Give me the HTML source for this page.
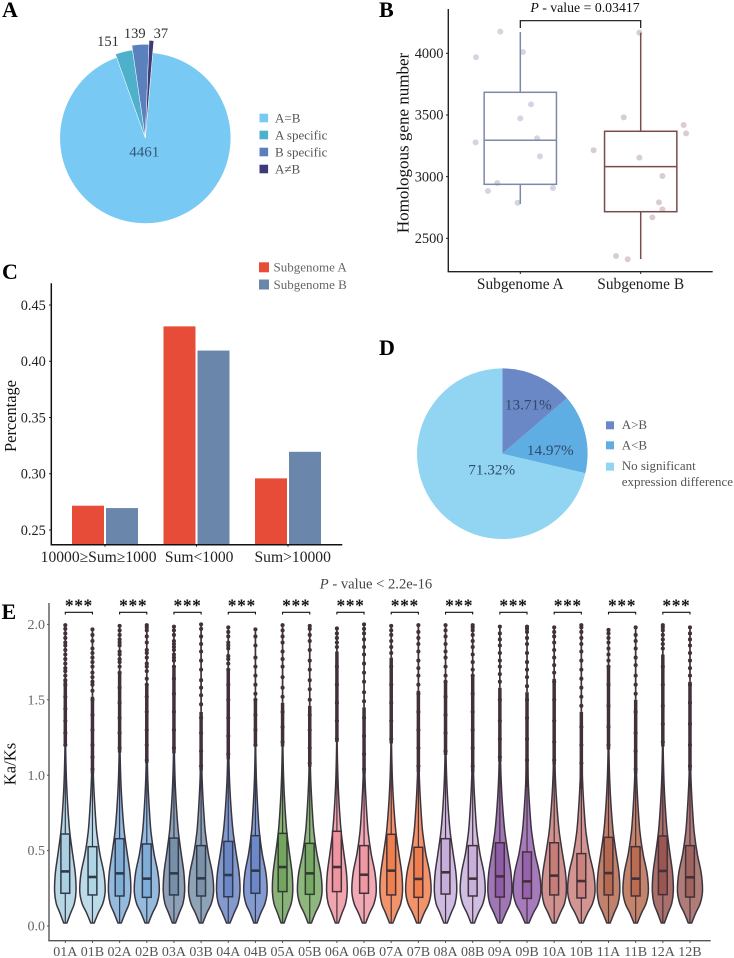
<!DOCTYPE html>
<html lang="en">
<head>
<meta charset="utf-8">
<title>Subgenome comparison figure</title>
<style>
html,body{margin:0;padding:0;background:#fff;}
svg{display:block;font-family:"Liberation Serif",serif;filter:blur(0.35px);}
</style>
</head>
<body>
<svg id="fig" width="734" height="958" viewBox="0 0 734 958" xmlns="http://www.w3.org/2000/svg">
  <text x="2" y="17" font-size="22" font-weight="bold">A</text>
  <text x="379" y="17" font-size="22" font-weight="bold">B</text>
  <text x="2" y="279" font-size="22" font-weight="bold">C</text>
  <text x="379" y="355" font-size="22" font-weight="bold">D</text>
  <text x="1.5" y="619" font-size="22" font-weight="bold">E</text>

  <g id="panelA"></g>

  <g id="panelB">
    <text x="585" y="12" font-size="13.8" text-anchor="middle" fill="#111"><tspan font-style="italic">P</tspan> - value = 0.03417</text>
    <text transform="translate(408.5,143) rotate(-90)" font-size="17" text-anchor="middle" fill="#111">Homologous gene number</text>
  </g>

  <g id="panelC">
    <text transform="translate(16,416) rotate(-90)" font-size="16.4" text-anchor="middle" fill="#111">Percentage</text>
  </g>

  <g id="panelD"></g>

  <g id="panelE">
    <text x="376" y="588.5" font-size="14.6" text-anchor="middle" fill="#444"><tspan font-style="italic">P</tspan> - value &lt; 2.2e-16</text>
    <text transform="translate(15.5,764) rotate(-90)" font-size="16.6" text-anchor="middle" fill="#111">Ka/Ks</text>
  </g>
</svg>

<script>
/* ---------- Panel A data ---------- */
const pieACategories = ['A=B', 'A specific', 'B specific', 'A\u2260B'];
const pieAValues = [4461, 151, 139, 37];

/* ---------- Panel B data ---------- */
const boxCategories = ['Subgenome A', 'Subgenome B'];
const boxUpperWhisker = [4173, 4167];
const boxQ3 = [3684, 3368];
const boxMedian = [3295, 3081];
const boxQ1 = [2938, 2716];
const boxLowerWhisker = [2778, 2332];
const boxTicks = [2500, 3000, 3500, 4000];
const pointsAValues = [4176, 3968, 4011, 3586, 3473, 3311, 3278, 3165, 2949, 2884, 2908, 2789];
const pointsAJitter = [-0.166, -0.368, 0.022, 0.089, 0, 0.139, -0.371, 0.163, -0.191, -0.269, 0.271, -0.022];
const pointsBValues = [4168, 3481, 3419, 3351, 3214, 3154, 3005, 2792, 2735, 2670, 2357, 2330];
const pointsBJitter = [-0.011, -0.141, 0.357, 0.377, -0.391, -0.011, 0.18, 0.152, 0.18, 0.097, -0.205, -0.108];

/* ---------- Panel C data ---------- */
const barCategories = ['10000\u2265Sum\u22651000', 'Sum<1000', 'Sum>10000'];
const barSeriesNames = ['Subgenome A', 'Subgenome B'];
const barSeriesA = [0.2716, 0.431, 0.2959];
const barSeriesB = [0.2695, 0.4095, 0.3195];
const barTicks = [0.25, 0.30, 0.35, 0.40, 0.45];

/* ---------- Panel D data ---------- */
const pieDCategories = ['A>B', 'A<B', 'No significant expression difference'];
const pieDValues = [13.71, 14.97, 71.32];

/* ---------- Panel E data ---------- */
const violinCategories = ['01A','01B','02A','02B','03A','03B','04A','04B','05A','05B','06A','06B','07A','07B','08A','08B','09A','09B','10A','10B','11A','11B','12A','12B'];
const violinQ1 = [.217,.206,.199,.19,.206,.199,.194,.217,.228,.21,.228,.217,.206,.19,.212,.199,.192,.183,.206,.186,.206,.199,.208,.192];
const violinMedian = [.362,.325,.349,.314,.349,.316,.338,.367,.391,.349,.391,.34,.367,.312,.356,.314,.329,.296,.334,.298,.351,.314,.365,.323];
const violinQ3 = [.61,.526,.579,.544,.583,.533,.561,.599,.614,.548,.628,.533,.608,.522,.579,.533,.552,.491,.552,.48,.588,.526,.597,.533];
const violinWhiskerTop = [1.2,1.01,1.15,1.08,1.145,1.03,1.105,1.19,1.19,1.056,1.22,1.01,1.21,1.02,1.134,1.02,1.09,.92,1.07,.91,1.17,1.01,1.19,1.03];
const violinDenseTop = [1.63,1.52,1.68,1.6,1.72,1.42,1.7,1.5,1.48,1.46,1.82,1.45,1.78,1.56,1.62,1.66,1.58,1.55,1.64,1.42,1.72,1.5,1.8,1.62];
const violinPeak = [10.7,12.7,11.2,12.5,10.7,12.5,11.7,11.7,10.2,12.3,10.3,12.2,11.3,12.7,11.2,12.5,12,13.8,12.2,13.7,11.3,12.7,10.5,12.5];
const densityGrid = [.02,.05,.09,.15,.23,.35,.48,.62,.75,.88,1.0,1.15,1.3];
const densityShapeA = [.15,.31,.52,.85,1,.93,.68,.42,.27,.16,.09,.04,.01];
const densityShapeB = [.14,.28,.48,.82,1,.9,.58,.34,.22,.13,.07,.03,.01];
const violinOutliers = [
  [1.2,1.28,1.36,1.44,1.52,1.6,1.63,1.66,1.69,1.71,1.74,1.77,1.8,1.83,1.86,1.88,1.91,1.94,1.97,1.995],
  [1.04,1.12,1.2,1.3,1.4,1.5,1.56,1.6,1.62,1.65,1.68,1.72,1.75,1.78,1.81,1.84,1.89,1.93,1.967],
  [1.18,1.28,1.38,1.48,1.58,1.68,1.72,1.75,1.77,1.8,1.82,1.86,1.88,1.9,1.93,1.96,1.99],
  [1.1,1.2,1.3,1.42,1.52,1.6,1.64,1.69,1.72,1.74,1.78,1.81,1.83,1.88,1.92,1.96,1.98,1.995],
  [1.18,1.3,1.42,1.54,1.64,1.72,1.76,1.78,1.8,1.83,1.85,1.87,1.89,1.93,1.96,1.985],
  [1.06,1.16,1.28,1.38,1.47,1.53,1.58,1.63,1.7,1.76,1.82,1.87,1.92,1.97,2.0],
  [1.14,1.26,1.38,1.5,1.6,1.7,1.74,1.77,1.79,1.84,1.86,1.88,1.92,1.95,1.98],
  [1.2,1.3,1.4,1.5,1.54,1.6,1.66,1.72,1.78,1.86,1.92,1.967],
  [1.22,1.32,1.42,1.52,1.58,1.65,1.72,1.77,1.82,1.88,1.92,1.96,1.995],
  [1.08,1.18,1.3,1.4,1.5,1.57,1.63,1.7,1.76,1.83,1.89,1.93,1.97,1.99],
  [1.24,1.36,1.48,1.6,1.72,1.85,1.88,1.91,1.94,1.973],
  [1.04,1.14,1.26,1.38,1.49,1.55,1.62,1.68,1.74,1.8,1.85,1.9,1.94,1.97,2.0],
  [1.24,1.36,1.48,1.6,1.72,1.81,1.85,1.89,1.93,1.96,1.99],
  [1.06,1.18,1.3,1.42,1.54,1.6,1.66,1.71,1.76,1.82,1.87,1.91,1.95,1.995],
  [1.16,1.28,1.4,1.52,1.62,1.66,1.72,1.78,1.82,1.87,1.92,1.96,1.995],
  [1.06,1.18,1.3,1.42,1.54,1.66,1.7,1.75,1.8,1.85,1.89,1.93,1.96,1.98,1.995],
  [1.12,1.24,1.36,1.5,1.62,1.67,1.72,1.76,1.81,1.86,1.9,1.94,1.985],
  [.96,1.1,1.24,1.38,1.5,1.59,1.65,1.7,1.75,1.81,1.87,1.91,1.95,1.97,1.985],
  [1.1,1.22,1.36,1.5,1.62,1.68,1.73,1.78,1.83,1.88,1.92,1.95,1.98],
  [.94,1.08,1.2,1.32,1.46,1.52,1.58,1.64,1.7,1.76,1.82,1.87,1.91,1.95,1.98,1.995],
  [1.2,1.32,1.46,1.6,1.72,1.76,1.8,1.84,1.88,1.91,1.94,1.963],
  [1.04,1.16,1.28,1.42,1.54,1.6,1.66,1.73,1.78,1.84,1.89,1.93,1.98],
  [1.22,1.34,1.46,1.6,1.72,1.84,1.87,1.9,1.93,1.96,1.98,1.995],
  [1.06,1.2,1.34,1.48,1.6,1.66,1.71,1.76,1.81,1.86,1.9,1.94,1.98]
];
const violinTicks = [0, 0.5, 1.0, 1.5, 2.0];

/* ---------- Styling constants ---------- */
const pieAColors = ['#78c9f3', '#4fb0cc', '#5a80bd', '#3e3a78'];
const pieARadius = [85.5, 89, 93.7, 97.7];
const pieALabelShiftX = [0, -12, -5, 9];
const pieALabelShiftY = [0, 10, 5, 5];
const pieDColors = ['#6a87c6', '#5eade3', '#92d5f2'];
const violinColors = ['#a9cfe0','#afd4e3','#7fadd6','#7fadd8','#788fa8','#7a91a8','#6b87c6','#6c88c8','#74a55f','#78a964','#ee95a0','#ee98a4','#ef7f4c','#ef7e4e','#c4aedb','#c6b0dc','#8d5da8','#9562ae','#c67d78','#cb817c','#b56a4f','#b96c50','#9a5650','#a0645e'];

const NS = 'http://www.w3.org/2000/svg';
function mk(parent, tag, attrs, text) {
  const e = document.createElementNS(NS, tag);
  for (const k in attrs) e.setAttribute(k, attrs[k]);
  if (text !== undefined) e.textContent = text;
  parent.appendChild(e);
  return e;
}
function polar(cx, cy, r, deg) {
  const a = deg * Math.PI / 180;
  return [cx + r * Math.sin(a), cy - r * Math.cos(a)];
}
function wedge(cx, cy, r, a0, a1) {
  const p0 = polar(cx, cy, r, a0), p1 = polar(cx, cy, r, a1);
  const large = (a1 - a0) > 180 ? 1 : 0;
  return 'M' + cx + ' ' + cy + 'L' + p0[0] + ' ' + p0[1] + 'A' + r + ' ' + r + ' 0 ' + large + ' 1 ' + p1[0] + ' ' + p1[1] + 'Z';
}
function slug(s) {
  return String(s).toLowerCase().replace(/[^a-z0-9]+/g, '-').replace(/^-|-$/g, '');
}

/* ---------- Panel A ---------- */
(function () {
  const g = document.getElementById('panelA');
  const cx = 145.3, cy = 138;
  const total = pieAValues.reduce(function (a, b) { return a + b; }, 0);
  let ang = 5;
  pieAValues.forEach(function (v, i) {
    const sweep = v / total * 360;
    const slice = mk(g, 'path', { d: wedge(cx, cy, pieARadius[i], ang, ang + sweep), fill: pieAColors[i], stroke: '#fff', 'stroke-width': 0.5 });
    
    
    const mid = ang + sweep / 2;
    const isMain = i === 0;
    const p = isMain ? [cx - 1, cy + 13.5] : polar(cx, cy, 105, mid);
    const label = mk(g, 'text', { x: p[0] + pieALabelShiftX[i], y: p[1] + pieALabelShiftY[i] + (isMain ? 5 : 0), 'font-size': isMain ? 15 : 14.5, 'text-anchor': 'middle', fill: isMain ? '#34567a' : '#333' }, String(v));
    
    
    ang += sweep;
  });
  pieACategories.forEach(function (c, i) {
    const y = 118 + i * 17;
    const sw = mk(g, 'rect', { x: 259.5, y: y - 4.3, width: 8.6, height: 8.6, fill: pieAColors[i] });
    
    
    const t = mk(g, 'text', { x: 275, y: y + 4.5, 'font-size': 13, fill: '#555' }, c);
    
    
  });
})();

/* ---------- Panel B ---------- */
(function () {
  const g = document.getElementById('panelB');
  const yS = function (v) { return 53.33 + (4000 - v) / 500 * 61.67; };
  const xS = function (i) { return 520.3 + i * 120.4; };
  const yAxis = mk(g, 'line', { x1: 448.3, y1: 9, x2: 448.3, y2: 271.7, stroke: '#222', 'stroke-width': 1.4 });
  
  
  const xAxis = mk(g, 'line', { x1: 447.6, y1: 271.7, x2: 712.7, y2: 271.7, stroke: '#222', 'stroke-width': 1.4 });
  
  
  boxTicks.forEach(function (t) {
    const y = yS(t);
    const tick = mk(g, 'line', { x1: 446, y1: y, x2: 448, y2: y, stroke: '#222', 'stroke-width': 1 });
    
    
    const lab = mk(g, 'text', { x: 443.5, y: y + 4.6, 'font-size': 14.4, 'text-anchor': 'end', fill: '#222' }, String(t));
    
    
  });
  const stroke = ['#7e88a8', '#7a4a4e'];
  const ptFill = ['#d6d4e0', '#dacdd1'];
  [[pointsAValues, pointsAJitter], [pointsBValues, pointsBJitter]].forEach(function (s, k) {
    s[0].forEach(function (v, j) {
      const pt = mk(g, 'circle', { cx: xS(k) + s[1][j] * 120.4, cy: yS(v), r: 3, fill: ptFill[k] });
      
      
    });
  });
  boxCategories.forEach(function (c, k) {
    const x = xS(k), w = 72.3;
    const up = mk(g, 'line', { x1: x, y1: yS(boxUpperWhisker[k]), x2: x, y2: yS(boxQ3[k]), stroke: stroke[k], 'stroke-width': 1.5 });
    
    
    const lo = mk(g, 'line', { x1: x, y1: yS(boxQ1[k]), x2: x, y2: yS(boxLowerWhisker[k]), stroke: stroke[k], 'stroke-width': 1.5 });
    
    
    const box = mk(g, 'rect', { x: x - w / 2, y: yS(boxQ3[k]), width: w, height: yS(boxQ1[k]) - yS(boxQ3[k]), fill: 'none', stroke: stroke[k], 'stroke-width': 1.5 });
    
    
    const med = mk(g, 'line', { x1: x - w / 2, y1: yS(boxMedian[k]), x2: x + w / 2, y2: yS(boxMedian[k]), stroke: stroke[k], 'stroke-width': 1.5 });
    
    
    const tick = mk(g, 'line', { x1: x, y1: 271.7, x2: x, y2: 274, stroke: '#222', 'stroke-width': 1 });
    
    
    const lab = mk(g, 'text', { x: x, y: 289, 'font-size': 15.4, 'text-anchor': 'middle', fill: '#222' }, c);
    
    
  });
  const br = mk(g, 'path', { d: 'M' + xS(0) + ' 28V20.7H' + xS(1) + 'V28', fill: 'none', stroke: '#111', 'stroke-width': 1.2 });
  
  
})();

/* ---------- Panel C ---------- */
(function () {
  const g = document.getElementById('panelC');
  const yS = function (v) { return 530 - (v - 0.25) / 0.05 * 56.25; };
  const xS = function (i) { return 105 + i * 91.5; };
  const base = 544.7, barW = 32;
  const colors = ['#e74c38', '#6b86ab'];
  const labelShift = [-6.4, 2.7, 4.7];
  barCategories.forEach(function (c, i) {
    const a = mk(g, 'rect', { x: xS(i) - barW - 1, y: yS(barSeriesA[i]), width: barW, height: base - yS(barSeriesA[i]), fill: colors[0] });
    
    
    const b = mk(g, 'rect', { x: xS(i) + 1, y: yS(barSeriesB[i]), width: barW, height: base - yS(barSeriesB[i]), fill: colors[1] });
    
    
    const tick = mk(g, 'line', { x1: xS(i), y1: base, x2: xS(i), y2: base + 2, stroke: '#222', 'stroke-width': 1 });
    
    
    const lab = mk(g, 'text', { x: xS(i) + labelShift[i], y: 562, 'font-size': 15.6, 'text-anchor': 'middle', fill: '#222' }, c);
    
    
  });
  const yAxis = mk(g, 'line', { x1: 51.3, y1: 283.3, x2: 51.3, y2: 544.7, stroke: '#111', 'stroke-width': 1.5 });
  
  
  const xAxis = mk(g, 'line', { x1: 50.6, y1: 544.7, x2: 342.3, y2: 544.7, stroke: '#111', 'stroke-width': 1.5 });
  
  
  barTicks.forEach(function (t) {
    const y = yS(t);
    const tick = mk(g, 'line', { x1: 49, y1: y, x2: 51, y2: y, stroke: '#222', 'stroke-width': 1 });
    
    
    const lab = mk(g, 'text', { x: 45.8, y: y + 4.8, 'font-size': 14.3, 'text-anchor': 'end', fill: '#222' }, t.toFixed(2));
    
    
  });
  barSeriesNames.forEach(function (n, i) {
    const y = 267.3 + i * 17.2;
    const sw = mk(g, 'rect', { x: 259, y: y - 5, width: 10, height: 10, fill: colors[i] });
    
    
    const t = mk(g, 'text', { x: 273.5, y: y + 4.4, 'font-size': 13, fill: '#666' }, n);
    
    
  });
})();

/* ---------- Panel D ---------- */
(function () {
  const g = document.getElementById('panelD');
  const cx = 502.3, cy = 453.7, r = 85.3;
  const total = pieDValues.reduce(function (a, b) { return a + b; }, 0);
  const labelX = [528.3, 550.3, 491.7];
  const labelY = [409.3, 455, 474.3];
  let ang = 0;
  pieDValues.forEach(function (v, i) {
    const sweep = v / total * 360;
    const slice = mk(g, 'path', { d: wedge(cx, cy, r, ang, ang + sweep), fill: pieDColors[i] });
    
    
    ang += sweep;
  });
  pieDValues.forEach(function (v, i) {
    const t = mk(g, 'text', { x: labelX[i], y: labelY[i], 'font-size': 15.2, 'text-anchor': 'middle', fill: '#2f4a6b' }, v.toFixed(2) + '%');
    
    
  });
  const swatchY = [425.3, 445.3, 466.7];
  const textY = [429, 449.3, 470];
  pieDCategories.forEach(function (c, i) {
    const sw = mk(g, 'rect', { x: 606, y: swatchY[i] - 4, width: 8, height: 8, fill: pieDColors[i] });
    
    
    if (i === 2) {
      const t1 = mk(g, 'text', { x: 621.7, y: textY[i], 'font-size': 13, fill: '#555' }, 'No significant');
      
      
      const t2 = mk(g, 'text', { x: 621.7, y: 486, 'font-size': 13, fill: '#555' }, 'expression difference');
      
      
    } else {
      const t = mk(g, 'text', { x: 621.7, y: textY[i], 'font-size': 13, fill: '#555' }, c);
      
      
    }
  });
})();

/* ---------- Panel E ---------- */
(function () {
  const g = document.getElementById('panelE');
  const yS = function (v) { return 926 - v * 150.8; };
  const xS = function (i) { return 65.3 + i * 27.16; };
  function smooth(pts) {
    let d = '';
    for (let i = 0; i < pts.length - 1; i++) {
      const p0 = pts[Math.max(i - 1, 0)], p1 = pts[i], p2 = pts[i + 1], p3 = pts[Math.min(i + 2, pts.length - 1)];
      d += 'C' + (p1[0] + (p2[0] - p0[0]) / 6) + ' ' + (p1[1] + (p2[1] - p0[1]) / 6) + ' ' + (p2[0] - (p3[0] - p1[0]) / 6) + ' ' + (p2[1] - (p3[1] - p1[1]) / 6) + ' ' + p2[0] + ' ' + p2[1];
    }
    return d;
  }
  const beadColor = '#41313a';
  violinCategories.forEach(function (c, i) {
    const x = xS(i);
    const shape = i % 2 === 0 ? densityShapeA : densityShapeB;
    const right = densityGrid.map(function (v, k) { return [x + shape[k] * violinPeak[i], yS(v)]; });
    const left = densityGrid.map(function (v, k) { return [x - shape[k] * violinPeak[i], yS(v)]; }).reverse();
    const stroke = i < 8 ? '#2f3a4c' : (i < 10 ? '#2f3d30' : '#46303a');
    const d = 'M' + right[0][0] + ' ' + right[0][1] + smooth(right) + 'L' + left[0][0] + ' ' + left[0][1] + smooth(left) + 'Z';
    const v = mk(g, 'path', { d: d, fill: violinColors[i], 'fill-opacity': 0.84, stroke: '#3c3540', 'stroke-width': 1.5, 'stroke-linejoin': 'round' });
    
    
    const lo = mk(g, 'line', { x1: x, y1: yS(0.02), x2: x, y2: yS(violinQ1[i]), stroke: stroke, 'stroke-width': 1.2 });
    
    
    const up = mk(g, 'line', { x1: x, y1: yS(violinQ3[i]), x2: x, y2: yS(violinWhiskerTop[i]), stroke: stroke, 'stroke-width': 1.2 });
    
    
    const box = mk(g, 'rect', { x: x - 4.4, y: yS(violinQ3[i]), width: 8.8, height: yS(violinQ1[i]) - yS(violinQ3[i]), fill: violinColors[i], stroke: stroke, 'stroke-width': 1.5 });
    
    
    const med = mk(g, 'line', { x1: x - 4.4, y1: yS(violinMedian[i]), x2: x + 4.4, y2: yS(violinMedian[i]), stroke: stroke, 'stroke-width': 2.6 });
    
    
    const spine = mk(g, 'line', { x1: x, y1: yS(violinDenseTop[i]), x2: x, y2: yS(violinOutliers[i][violinOutliers[i].length - 1]), stroke: beadColor, 'stroke-width': 1.7 });
    
    
    const dense = mk(g, 'line', { x1: x, y1: yS(violinWhiskerTop[i]), x2: x, y2: yS(violinDenseTop[i]), stroke: beadColor, 'stroke-width': 3.5 });
    
    
    violinOutliers[i].forEach(function (o, j) {
      const pt = mk(g, 'circle', { cx: x, cy: yS(o), r: 2.05, fill: beadColor });
      
      
    });
    const tick = mk(g, 'line', { x1: x, y1: 940.7, x2: x, y2: 943, stroke: '#555', 'stroke-width': 1 });
    
    
    const lab = mk(g, 'text', { x: x, y: 956, 'font-size': 14, 'text-anchor': 'middle', fill: '#555' }, c);
    
    
    if (i % 2 === 0) {
      const xb = xS(i + 1);
      const br = mk(g, 'path', { d: 'M' + x + ' 614.5V612.3H' + xb + 'V614.5', fill: 'none', stroke: '#111', 'stroke-width': 1.1 });
      
      
      const st = mk(g, 'text', { x: (x + xb) / 2, y: 611.5, 'font-size': 17.5, 'font-weight': 'bold', 'text-anchor': 'middle', 'letter-spacing': 0.6, fill: '#111' }, '***');
      
      
    }
  });
  const yAxis = mk(g, 'line', { x1: 49, y1: 603, x2: 49, y2: 940.7, stroke: '#555', 'stroke-width': 1.4 });
  
  
  const xAxis = mk(g, 'line', { x1: 48.3, y1: 940.7, x2: 710.7, y2: 940.7, stroke: '#555', 'stroke-width': 1.4 });
  
  
  violinTicks.forEach(function (t) {
    const y = yS(t);
    const tick = mk(g, 'line', { x1: 47, y1: y, x2: 49, y2: y, stroke: '#555', 'stroke-width': 1 });
    
    
    const lab = mk(g, 'text', { x: 45, y: y + 4.6, 'font-size': 14, 'text-anchor': 'end', fill: '#666' }, t.toFixed(1));
    
    
  });
})();
</script>
</body>
</html>
